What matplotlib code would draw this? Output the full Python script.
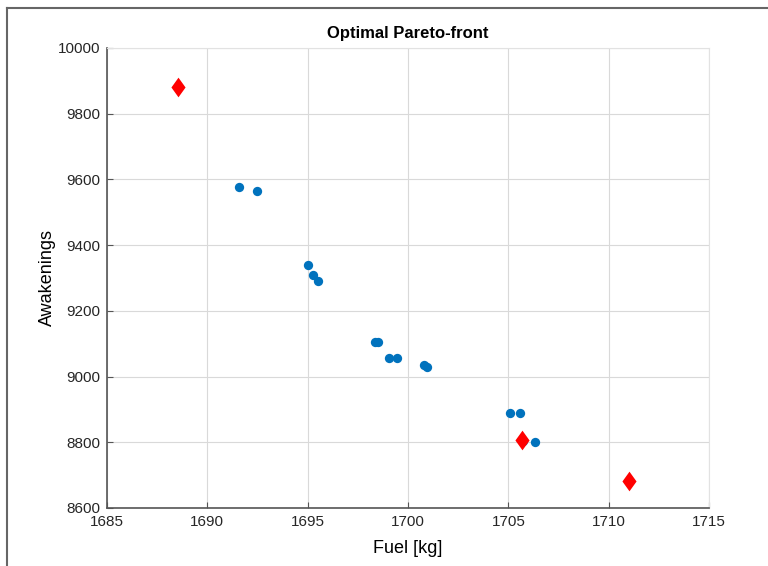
import matplotlib.pyplot as plt
from matplotlib.lines import Line2D

plt.rcParams['font.family'] = ['Liberation Sans', 'DejaVu Sans']

# точки фронта Парето
fuel = [1691.6, 1692.5, 1695.0, 1695.25, 1695.5, 1698.35, 1698.5,
        1699.05, 1699.45, 1700.8, 1700.95, 1705.1, 1705.6, 1705.75, 1706.35]
awake = [9577, 9565, 9340, 9309, 9291, 9106, 9106,
         9056, 9056, 9034, 9030, 8888, 8888, 8805, 8800]

# выбранные решения
sel_fuel = [1688.55, 1705.7, 1711.0]
sel_awake = [9880, 8807, 8682]

diamond = [(0, 1), (0.72, 0), (0, -1), (-0.72, 0), (0, 1)]

fig = plt.figure(figsize=(7.68, 5.66), dpi=100)
ax = fig.add_axes([0.1393, 0.1025, 0.7839, 0.8127])

ax.scatter(fuel, awake, s=45, color='#0072BD', zorder=3, linewidths=0)
ax.scatter(sel_fuel, sel_awake, s=200, marker=diamond, color='red', zorder=4, linewidths=0)

ax.set_xlim(1685, 1715)
ax.set_ylim(8600, 10000)
ax.set_xticks(range(1685, 1716, 5))
ax.set_yticks(range(8600, 10001, 200))
ax.grid(True, color='#d9d9d9', linewidth=0.8)
ax.set_axisbelow(True)

for s in ['left', 'bottom']:
    ax.spines[s].set_color('#555555')
    ax.spines[s].set_linewidth(1.2)
for s in ['top', 'right']:
    ax.spines[s].set_color('#e2e2e2')
ax.tick_params(direction='in', length=4, width=0.8, color='#555555',
               labelsize=11, labelcolor='#262626', pad=5)

ax.set_title('Optimal Pareto-front', fontsize=12, fontweight='bold', pad=7)
ax.set_xlabel('Fuel [kg]', fontsize=13, labelpad=8)
ax.set_ylabel('Awakenings', fontsize=13, labelpad=1)

# рамка скриншота
fig.add_artist(Line2D([7/768, 1], [1 - 8/566, 1 - 8/566], color='#666666', lw=1.5))
fig.add_artist(Line2D([7/768, 7/768], [0, 1 - 8/566], color='#666666', lw=1.5))

fig.savefig('out.png', dpi=100)
